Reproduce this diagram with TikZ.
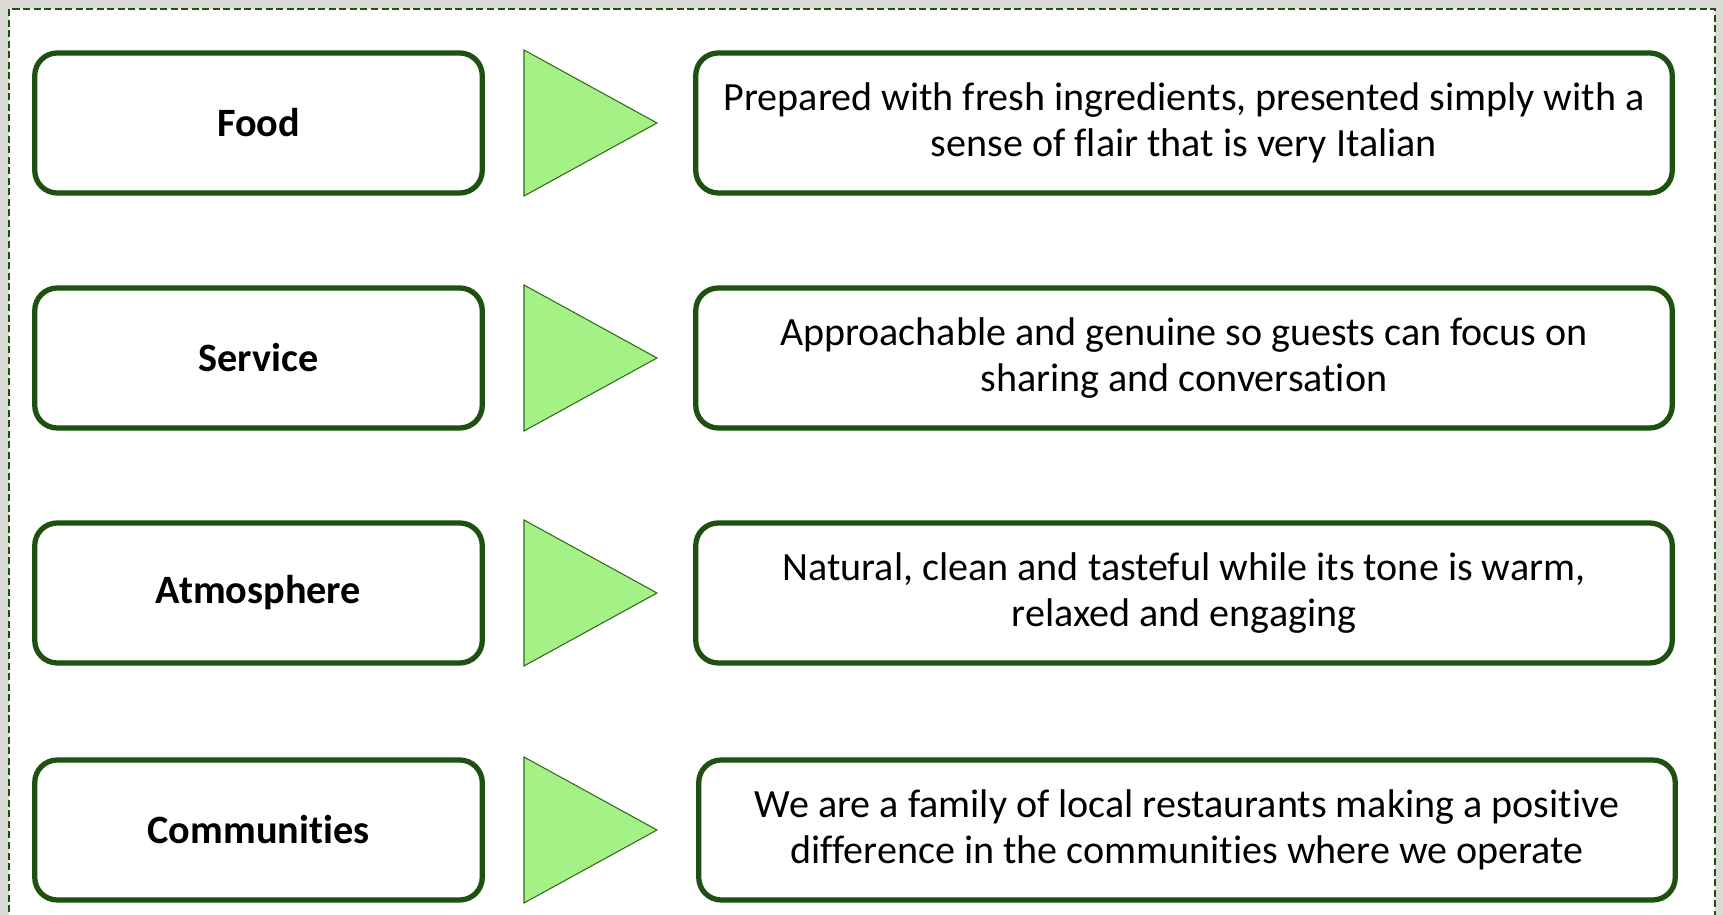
\documentclass[tikz,border=0pt]{standalone}
\usepackage{fontspec}
\setmainfont{Carlito}[Ligatures=NoCommon]
\definecolor{boxgreen}{HTML}{1E5010}
\definecolor{trifill}{HTML}{A4F285}
\definecolor{triline}{HTML}{2F6A1C}
\definecolor{pagegray}{HTML}{DCDAD5}
\begin{document}
\begin{tikzpicture}[
  labelbox/.style={draw=boxgreen, line width=3pt, rounded corners=0.45cm,
    minimum width=8.95cm, minimum height=2.8cm,
    font=\fontsize{22.9pt}{26.5pt}\selectfont\bfseries},
  textbox/.style={draw=boxgreen, line width=3pt, rounded corners=0.45cm,
    minimum width=19.53cm, minimum height=2.8cm, align=center,
    font=\fontsize{22.8pt}{26.5pt}\selectfont},
  pointer/.style={fill=trifill, draw=triline, line width=0.6pt}
]
  % Background and frame
  \fill[pagegray] (0,0) rectangle (34.46,18.3);
  \useasboundingbox (0,0) rectangle (34.46,18.3);
  \fill[white] (0.18,-1) rectangle (34.3,18.12);
  \draw[boxgreen, line width=1.1pt, dash pattern=on 4pt off 2pt]
    (0.18,-1) -- (0.18,18.12) -- (34.3,18.12) -- (34.3,-1);

  % Left labels
  \node[labelbox] (food) at (5.17,15.84) {Food};
  \node[labelbox] (service) at (5.17,11.14) {Service};
  \node[labelbox] (atmosphere) at (5.17,6.44) {Atmosphere};
  \node[labelbox] (communities) at (5.17,1.70) {Communities};

  % Pointers
  \foreach \y in {15.84,11.14,6.44,1.70}
    \draw[pointer] (10.48,\y+1.46) -- (13.14,\y) -- (10.48,\y-1.46) -- cycle;

  % Descriptions
  \node[textbox] (foodtext) at (23.68,15.84)
    {Prepared with fresh ingredients, presented simply with a\\sense of flair that is very Italian};
  \node[textbox] (servicetext) at (23.68,11.14)
    {Approachable and genuine so guests can focus on\\sharing and conversation};
  \node[textbox] (atmospheretext) at (23.68,6.44)
    {Natural, clean and tasteful while its tone is warm,\\relaxed and engaging};
  \node[textbox] (communitiestext) at (23.74,1.70)
    {We are a family of local restaurants making a positive\\difference in the communities where we operate};
\end{tikzpicture}
\end{document}
